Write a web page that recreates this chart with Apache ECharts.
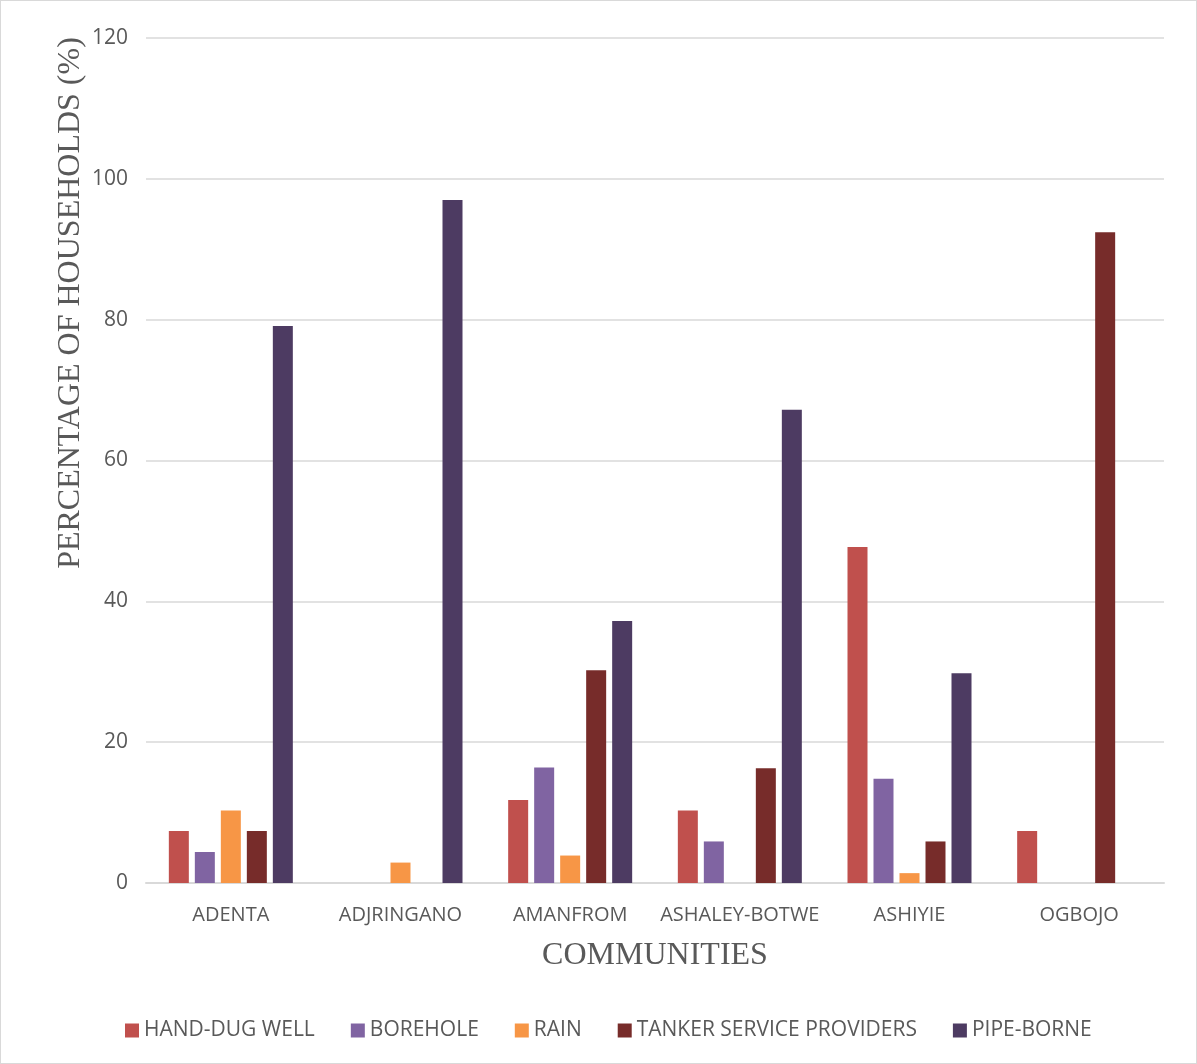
<!DOCTYPE html>
<html>
<head>
<meta charset="utf-8">
<script src="https://cdn.jsdelivr.net/npm/echarts@6/dist/echarts.min.js"></script>
<style>
  html, body { margin: 0; padding: 0; background: #fff; }
  #chart { width: 1197px; height: 1064px; box-sizing: border-box; border: 1px solid #d9d9d9; }
</style>
</head>
<body>
<div id="chart"></div>
<script>
// Household water sources by community (% of households)
const communities = ['ADENTA', 'ADJRINGANO', 'AMANFROM', 'ASHALEY-BOTWE', 'ASHIYIE', 'OGBOJO'];
const handDugWell = [7.4, 0, 11.8, 10.3, 47.7, 7.4];
const borehole    = [4.4, 0, 16.4, 5.9, 14.8, 0];
const rain        = [10.3, 2.9, 3.9, 0, 1.4, 0];
const tanker      = [7.4, 0, 30.2, 16.3, 5.9, 92.4];
const pipeBorne   = [79.1, 97.0, 37.2, 67.2, 29.8, 0];
const yTicks = { min: 0, max: 120, interval: 20 };
const yTitle = 'PERCENTAGE OF HOUSEHOLDS (%)';

const seriesDefs = [
  { name: 'HAND-DUG WELL', data: handDugWell, color: '#C0504D' },
  { name: 'BOREHOLE', data: borehole, color: '#8064A2' },
  { name: 'RAIN', data: rain, color: '#F79646' },
  { name: 'TANKER SERVICE PROVIDERS', data: tanker, color: '#772C2A' },
  { name: 'PIPE-BORNE', data: pipeBorne, color: '#4D3B62' }
];

const chart = echarts.init(document.getElementById('chart'), null, { renderer: 'canvas' });
chart.setOption({
  animation: false,
  backgroundColor: '#ffffff',
  grid: { left: 145, right: 32, top: 37, bottom: 180, containLabel: false },
  legend: {
    bottom: 17,
    left: 119,
    itemWidth: 14,
    itemHeight: 14,
    itemGap: 36,
    icon: 'rect',
    textStyle: { fontFamily: 'Open Sans', fontSize: 21, color: '#595959' },
    data: seriesDefs.map(s => s.name)
  },
  // vertical axis title, sitting toward the upper part of the value axis
  graphic: [{
    type: 'text',
    x: 70,
    y: 302,
    rotation: Math.PI / 2,
    style: {
      text: yTitle,
      fontFamily: 'Liberation Serif',
      fontSize: 32,
      fill: '#595959',
      align: 'center',
      verticalAlign: 'middle'
    }
  }],
  xAxis: {
    type: 'category',
    data: communities,
    name: 'COMMUNITIES',
    nameLocation: 'middle',
    nameGap: 57,
    nameMoveOverlap: false,
    nameTextStyle: { fontFamily: 'Liberation Serif', fontSize: 32, color: '#595959' },
    axisLine: { lineStyle: { color: '#d9d9d9', width: 2 } },
    axisTick: { show: false },
    axisLabel: { interval: 0, fontFamily: 'Open Sans', fontSize: 20, color: '#595959', margin: 22 }
  },
  yAxis: {
    type: 'value',
    min: yTicks.min,
    max: yTicks.max,
    interval: yTicks.interval,
    axisLine: { show: false },
    axisTick: { show: false },
    axisLabel: { fontFamily: 'Open Sans', fontSize: 21, color: '#595959', margin: 18 },
    splitLine: { lineStyle: { color: '#d9d9d9', width: 1.5 } }
  },
  series: seriesDefs.map(s => ({
    name: s.name,
    type: 'bar',
    data: s.data,
    barWidth: 20,
    barGap: '30%',
    itemStyle: { color: s.color }
  }))
});
</script>
</body>
</html>
